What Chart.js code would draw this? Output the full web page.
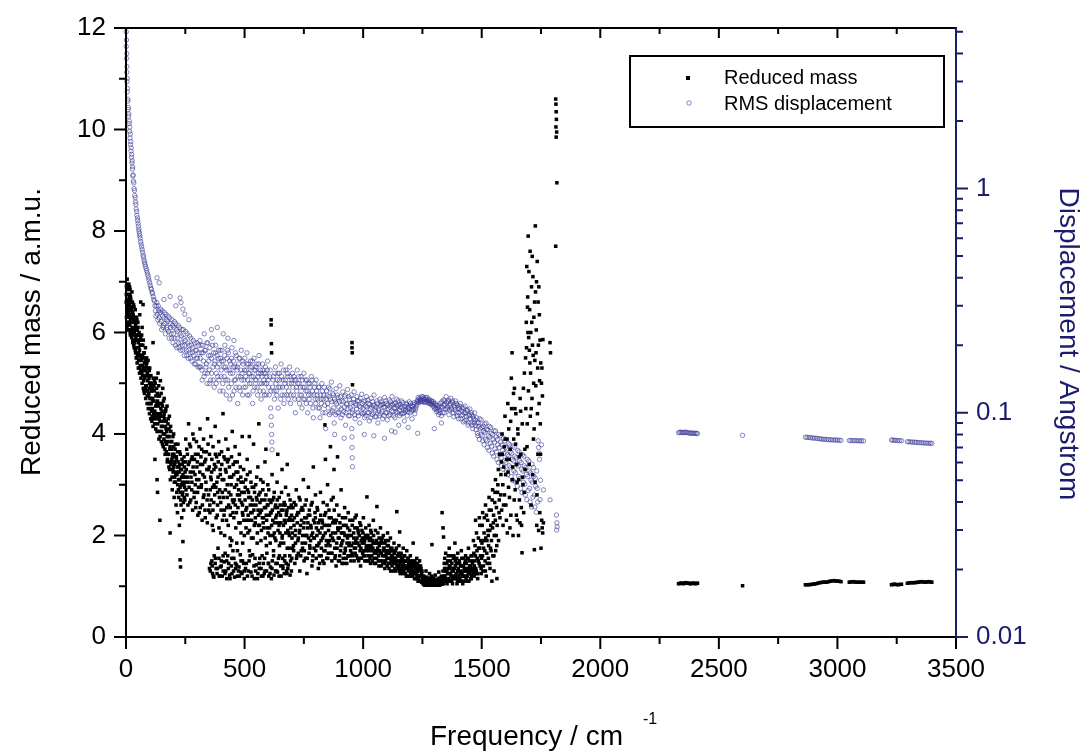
<!DOCTYPE html>
<html>
<head>
<meta charset="utf-8">
<script src="https://cdn.jsdelivr.net/npm/chart.js@4.4.1/dist/chart.umd.min.js"></script>
<style>
html,body{margin:0;padding:0;background:#fff;}
#wrap{width:1089px;height:752px;position:relative;}
</style>
</head>
<body>
<div id="wrap"><canvas id="c"></canvas></div>
<script>
// ---------- tick labels ----------
const xTicks = [0, 500, 1000, 1500, 2000, 2500, 3000, 3500];
const xMinor = [250, 750, 1250, 1750, 2250, 2750, 3250];
const yTicks = [0, 2, 4, 6, 8, 10, 12];
const yMinor = [1, 3, 5, 7, 9, 11];
const logTicks = [0.01, 0.1, 1];
const logMinor = [0.02,0.03,0.04,0.05,0.06,0.07,0.08,0.09,0.2,0.3,0.4,0.5,0.6,0.7,0.8,0.9,2,3,4,5];

// ---------- Reduced mass (a.m.u.) : [frequency, mass] ----------
const massLow = [
[2,6.9],[3,6.6],[4,6.35],[5,7.05],[6,6.75],[7,6.5],[8,6.2],[9,6.85],[10,6.6],[11,6.4],[12,6.95],[13,6.3],[14,6.7],[15,6.55],[16,6.15],[17,6.85],[18,6.45],[19,6.25],[20,6.65],[21,6.05],[23,6.5],[24,6.3],[25,6.8],[26,6.1],[28,6.4],[29,6.2],[30,5.95],[32,6.55],[33,6.3],[35,6.0],[36,6.2],[38,5.85],[39,6.45],[40,6.1],
[42,5.9],[44,6.3],[45,5.7],[47,6.05],[48,5.55],[50,6.2],[52,5.8],[53,5.45],[55,6.0],[57,5.65],[58,6.35],[60,5.35],[62,5.9],[63,5.5],[65,5.75],[67,5.2],[68,6.1],[70,5.55],[72,5.3],[73,5.85],[75,5.05],[77,5.6],[78,5.4],[80,5.15],[82,5.7],[83,4.95],[85,5.35],[87,5.5],[88,4.85],[90,5.2],[92,5.05],[93,5.45],[95,4.75],[97,5.1],[98,4.9],[100,5.3],[102,4.6],[104,4.95],[105,5.15],[107,4.7],[108,4.45],[110,5.0],[62,6.6],[72,6.55],[114,5.8],
[112,4.7],[115,5.1],[117,4.4],[119,4.85],[121,4.2],[123,5.0],[125,4.55],[127,4.3],[129,4.9],[131,4.05],[133,4.65],[135,5.2],[137,4.4],[139,3.9],[141,4.75],[143,4.25],[145,5.05],[147,4.5],[149,3.85],[151,4.6],[153,4.15],[155,4.9],[157,3.75],[159,4.35],[161,4.7],[163,4.0],[165,3.6],[167,4.45],[169,4.1],[171,3.8],[173,4.55],[175,3.5],[177,4.2],[179,3.95],[181,3.35],[183,4.35],[185,3.7],[187,3.1],[189,4.05],[191,3.45],[193,3.85],[195,2.9],[197,3.6],[199,3.25],[201,4.0],[203,2.75],[205,3.4],[207,3.7],[209,3.05],[211,2.6],[213,3.5],[215,3.2],[217,2.45],[219,3.8],[221,2.9],[223,3.35],[225,2.2],[227,3.1],[229,3.6],[231,2.7],[233,3.0],[235,2.35],[237,3.4],[239,2.85],[241,3.15],[243,2.5],[245,3.55],[247,2.95],[249,3.25],
[122,3.5],[131,3.1],[133,2.85],[143,2.3],[186,2.05],[228,1.52],[230,1.38],[240,1.88],[114,4.15]
];
const massLow2 = [
[1,6.6],[2,6.3],[3,6.95],[4,6.1],[5,6.5],[6,6.3],[7,6.85],[8,6.6],[9,6.4],[10,6.15],[11,6.9],[12,6.55],[13,6.05],[14,6.45],[15,6.9],[16,6.35],[17,6.6],[18,6.0],[19,6.7],[20,6.3],[22,6.45],[24,5.9],[25,6.25],[27,6.6],[29,5.85],[30,6.35],[31,6.05],[33,5.75],[34,6.5],[36,5.8],[37,6.25],[39,5.65],[41,6.15],[43,5.5],[44,5.95],[46,6.25],[47,5.4],[49,5.85],[51,6.1],[52,5.3],[54,5.7],[56,5.95],[57,5.2],[59,5.55],[61,5.85],[63,5.1],[64,5.45],[66,5.95],[68,5.0],[69,5.35],[71,5.75],[73,4.9],[74,5.25],[76,5.6],[78,4.8],[79,5.1],[81,5.45],[83,4.7],[84,5.25],[86,4.95],[88,5.4],[89,4.6],[91,4.85],[93,5.15],[94,4.5],[96,4.8],[98,5.25],[99,4.4],[101,4.7],[103,5.0],[104,4.3],[106,4.6],[108,4.85],[109,4.25],[111,4.5],[113,4.9],[116,4.3],[118,4.65],[120,5.05],[124,4.35],[126,4.75],[128,5.1],[130,4.4],[132,4.8],[134,4.2],[136,4.55],[138,4.95],[140,4.3],[142,4.6],[144,3.95],[146,4.35],[148,4.8],[150,4.05],[152,4.45],[154,3.8],[156,4.25],[158,4.65],[160,3.9],[162,4.3],[164,3.7],[166,4.15],[168,4.5],[170,3.65],[172,4.05],[174,3.45],[176,3.85],[178,4.3],[180,3.6],[182,3.95],[184,3.3],[186,3.75],[188,4.15],[190,3.4],[192,3.7],[194,3.15],[196,3.55],[198,3.95],[200,3.35],[202,3.6],[204,3.05],[206,3.45],[208,3.8],[210,3.2],[212,3.55],[214,2.85],[216,3.35],[218,3.0],[220,3.45],[222,2.75],[224,3.25],[226,3.65],[228,2.95],[230,3.3],[232,2.6],[234,3.15],[236,3.5],[238,2.8],[240,3.2],[242,2.65],[244,3.0],[246,3.35],[248,2.7],[250,3.05]
];
const massLow3 = [
[1.5,6.75],[3.5,6.45],[5.5,6.2],[7.5,6.95],[9.5,6.05],[11.5,6.65],[14.5,6.2],[16.5,6.75],[18.5,5.95],[21.5,6.5],[23.5,6.0],[26.5,6.4],[28.5,5.8],[31.5,6.25],[34.5,5.7],[37.5,6.05],[40.5,5.6],[43.5,6.05],[46.5,5.5],[49.5,5.95],[53.5,5.6],[56.5,5.3],[59.5,5.75],[62.5,5.25],[65.5,5.55],[69.5,5.15],[72.5,5.5],[75.5,4.85],[79.5,5.3],[82.5,4.9],[86.5,5.15],[89.5,4.75],[92.5,5.3],[96.5,4.6],[99.5,5.0],[103.5,4.5],[106.5,4.85],[110.5,4.35],[113.5,4.65],[117.5,4.95],[121.5,4.45],[125.5,4.1],[129.5,4.6],[133.5,4.35],[137.5,4.75],[141.5,4.05],[145.5,4.4],[149.5,4.15],[153.5,4.55],[157.5,4.0],[161.5,4.4],[165.5,3.85],[169.5,4.25],[173.5,3.95],[177.5,3.6],[181.5,4.1],[185.5,3.45],[189.5,3.85],[193.5,3.5],[197.5,3.3],[201.5,3.75],[205.5,3.15],[209.5,3.55],[213.5,3.25],[217.5,3.65],[221.5,3.1],[225.5,3.4],[229.5,2.85],[233.5,3.3],[237.5,3.05],[241.5,3.45],[245.5,2.75],[249.5,3.15]
];
const massMid = [
[252,3.9],[254,3.3],[257,2.8],[259,3.6],[262,3.05],[264,4.2],[267,3.45],[269,2.65],[272,3.75],[274,3.15],[277,2.9],[279,3.55],[282,4.0],[284,3.25],[287,2.75],[289,3.5],[292,3.0],[294,2.55],[297,3.85],[299,3.35],[302,2.85],[304,3.6],[307,3.1],[309,2.45],[312,4.1],[314,3.4],[317,2.95],[319,3.7],[322,2.6],[324,3.2],[327,3.9],[329,2.8],[332,3.45],[334,2.35],[337,3.05],[339,3.65],[342,2.7],[344,4.3],[347,3.3],[349,2.5],
[352,3.6],[355,2.9],[358,3.95],[361,3.25],[364,2.2],[367,3.75],[370,2.65],[373,3.4],[376,4.15],[379,2.95],[382,3.55],[385,2.4],[388,3.15],[391,3.85],[394,2.75],[397,3.3],[400,2.05],[403,3.65],[406,2.85],[409,4.4],[412,3.1],[415,2.5],[418,3.5],[421,3.9],[424,2.3],[427,3.0],[430,3.7],[433,2.6],[436,3.35],[439,1.95],[442,2.8],[445,3.55],[448,4.05],[451,2.45],[454,3.2],[457,2.7],[460,3.75],[463,2.15],[466,3.0],[469,3.45],[472,2.55],[475,2.9],[478,3.6],[481,2.25],[484,3.15],[487,2.65],[490,3.95],[493,2.4],[496,3.3],[499,2.0],
[358,1.45],[365,1.25],[372,1.6],[380,1.35],[388,1.75],[395,1.2],[402,1.5],[410,1.3],[418,1.65],[425,1.15],[433,1.45],[440,1.8],[447,1.25],[455,1.55],[462,1.35],[470,1.7],[478,1.2],[485,1.5],[492,1.85],[499,1.3],
[502,2.7],[505,3.1],[508,2.3],[511,3.5],[514,2.05],[517,2.85],[520,1.7],[523,3.25],[526,2.45],[529,1.95],[532,2.95],[535,2.6],[538,3.8],[541,2.2],[544,1.55],[547,3.0],[550,2.75],[553,1.85],[556,3.35],[559,2.4],[562,1.35],[565,2.65],[568,3.1],[571,2.1],[574,1.6],[577,2.9],[580,2.35],[583,1.25],[586,3.45],[589,2.55],[592,1.8],[595,2.15],[598,3.0],[601,1.45],[604,2.7],[607,2.0],[610,2.45],[613,1.15],[616,3.2],[619,2.3],[622,1.7],[625,2.85],[628,1.95],[631,2.6],[634,1.3],[637,3.05],[640,2.25],[643,1.55],[646,2.75],[649,2.05],[652,1.85],[655,2.5],[658,3.3],[661,1.4],[664,2.2],[667,2.65],[670,1.6],[673,2.95],[676,2.4],[679,1.25],[682,2.1],[685,2.8],[688,1.75],[691,2.35],[694,1.5],[697,2.6],[700,1.95],
[520,3.95],[560,4.2],[590,3.7],[640,3.6],[680,3.4],[612,6.25],[612,6.15],[613,5.78],[614,5.6]
];
const massMid2 = [
[251,3.45],[253,2.9],[256,3.7],[258,3.15],[261,2.6],[263,3.4],[266,2.95],[268,3.8],[271,3.25],[273,2.7],[276,3.5],[278,3.05],[281,2.5],[283,3.35],[286,3.9],[288,2.85],[291,3.2],[293,3.6],[296,2.65],[298,3.1],[301,3.45],[303,2.4],[306,2.95],[308,3.75],[311,3.25],[313,2.55],[316,3.55],[318,3.0],[321,2.3],[323,3.4],[326,2.75],[328,3.65],[331,3.15],[333,2.5],[336,3.5],[338,2.9],[341,3.3],[343,2.25],[346,3.8],[348,2.8],
[351,3.35],[354,2.45],[357,3.15],[359,2.7],[362,3.5],[365,2.95],[368,2.1],[371,3.3],[374,2.8],[377,3.6],[380,2.35],[383,3.05],[386,2.6],[389,3.45],[392,2.15],[395,2.9],[398,3.2],[401,2.5],[404,3.4],[407,2.3],[410,2.75],[413,3.55],[416,2.0],[419,2.9],[422,3.25],[425,2.55],[428,3.45],[431,2.2],[434,2.85],[437,3.15],[440,2.4],[443,3.0],[446,1.9],[449,2.7],[452,3.4],[455,2.35],[458,2.95],[461,2.6],[464,3.25],[467,1.85],[470,2.8],[473,3.1],[476,2.25],[479,2.7],[482,3.35],[485,2.05],[488,2.85],[491,2.45],[494,3.05],[497,2.3],
[352,1.35],[362,1.5],[368,1.2],[376,1.45],[384,1.25],[392,1.55],[398,1.38],[406,1.2],[414,1.48],[421,1.3],[429,1.6],[437,1.22],[444,1.4],[451,1.7],[458,1.18],[466,1.42],[474,1.3],[482,1.62],[489,1.25],[496,1.45],[504,1.35],[512,1.2],[519,1.5],[527,1.28],[534,1.62],[541,1.15],[549,1.42],[556,1.25],[564,1.55],[571,1.2],[579,1.45],[586,1.3],[594,1.65],[602,1.2],[609,1.38],[617,1.5],[624,1.22],[632,1.45],[639,1.28],[647,1.6],[654,1.2],[662,1.35],[669,1.5],[677,1.3],[684,1.42],[692,1.22],[699,1.55],
[503,2.95],[506,2.15],[509,2.55],[512,3.2],[515,2.4],[518,2.75],[521,2.1],[524,2.6],[527,3.05],[530,2.3],[533,2.7],[536,1.95],[539,2.5],[542,2.85],[545,2.25],[548,2.6],[551,3.15],[554,2.05],[557,2.5],[560,2.8],[563,2.2],[566,2.45],[569,1.9],[572,2.7],[575,2.35],[578,3.05],[581,2.15],[584,2.55],[587,1.95],[590,2.8],[593,2.3],[596,2.6],[599,2.05],[602,2.9],[605,2.4],[608,1.85],[611,2.65],[614,2.2],[617,2.5],[620,2.0],[623,2.75],[626,2.25],[629,2.55],[632,1.9],[635,2.4],[638,2.7],[641,2.1],[644,2.45],[647,1.8],[650,2.6],[653,2.25],[656,2.85],[659,2.0],[662,2.5],[665,1.85],[668,2.3],[671,2.6],[674,2.05],[677,2.45],[680,1.75],[683,2.3],[686,2.55],[689,2.0],[692,2.7],[695,2.15],[698,2.4]
];
const massMid3 = [
[353.5,2.6],[359.5,3.1],[366.5,2.5],[371.5,3.0],[378.5,3.35],[386.5,2.85],[393.5,3.6],[399.5,2.65],[405.5,3.1],[413.5,2.4],[419.5,3.3],[426.5,2.75],[432.5,3.5],[439.5,2.55],[445.5,3.15],[452.5,2.65],[459.5,3.45],[465.5,2.45],[471.5,3.25],[478.5,2.8],[485.5,3.05],[491.5,2.6],[498.5,2.85],[505.5,2.5],[512.5,2.9],[518.5,2.3],[525.5,2.75],[531.5,2.45],[538.5,2.95],[545.5,2.35],[552.5,2.7],[558.5,2.2],[565.5,2.85],[571.5,2.5],[578.5,2.25],[585.5,2.7],[591.5,2.4],[598.5,2.6],[605.5,2.15],[611.5,2.45],[618.5,2.7],[625.5,2.05],[631.5,2.35],[638.5,2.55],[645.5,2.2],[651.5,2.4],[658.5,1.95],[665.5,2.6],[671.5,2.25],[678.5,2.5],[685.5,2.05],[691.5,2.3],[698.5,2.55],
[355.5,1.3],[363.5,1.4],[370.5,1.18],[377.5,1.55],[385.5,1.35],[393.5,1.2],[401.5,1.4],[409.5,1.6],[417.5,1.25],[424.5,1.5],[431.5,1.35],[438.5,1.15],[446.5,1.55],[453.5,1.3],[461.5,1.45],[469.5,1.2],[476.5,1.38],[484.5,1.28],[491.5,1.5],[498.5,1.15],[507.5,1.45],[515.5,1.3],[523.5,1.6],[531.5,1.2],[539.5,1.4],[546.5,1.3],[554.5,1.15],[561.5,1.45],[569.5,1.35],[577.5,1.2],[584.5,1.55],[592.5,1.3],[600.5,1.45],[607.5,1.25],[615.5,1.35],[622.5,1.6],[630.5,1.3],[637.5,1.45],[645.5,1.2],[652.5,1.4],[660.5,1.55],[667.5,1.25],[675.5,1.45],[682.5,1.35],[690.5,1.6],[697.5,1.3]
];
const massHigh = [
[703,2.3],[706,1.8],[709,2.65],[712,1.45],[715,2.1],[718,2.9],[721,1.6],[724,2.45],[727,1.95],[730,2.75],[733,1.3],[736,2.2],[739,1.7],[742,2.55],[745,2.0],[748,3.1],[751,1.5],[754,2.35],[757,1.85],[760,2.7],[763,1.25],[766,2.15],[769,2.95],[772,1.65],[775,2.4],[778,1.9],[781,2.6],[784,1.4],[787,2.05],[790,3.35],[793,1.75],[796,2.25],[799,2.8],[802,1.55],[805,2.0],[808,2.5],[811,1.35],[814,1.85],[817,2.3],[820,2.85],[823,1.6],[826,2.15],[829,1.95],[832,2.65],[835,1.45],[838,2.4],[841,3.5],[844,1.8],[847,2.2],[850,3.0],[853,1.65],[856,2.5],[859,1.9],[862,3.75],[865,2.35],[868,1.5],[871,2.05],[874,2.75],[877,3.3],[880,1.75],[883,2.25],[886,1.4],[889,2.6],[892,3.55],[895,1.95],[898,2.4],[901,1.6],[904,2.15],[907,2.9],[910,1.85],[913,2.35],[916,1.55],[919,2.05],[922,2.55],[925,1.7],[928,2.2],[931,1.45],[934,1.95],[937,2.45],[940,1.8],[943,2.1],[946,1.6],
[839,4.18],[953,5.8],[953,5.7],[954,5.6],[955,4.97],
[950,2.0],[953,1.65],[956,2.3],[959,1.85],[962,1.5],[965,2.15],[968,1.75],[971,2.4],[974,1.95],[977,1.55],[980,2.05],[983,1.8],[986,2.25],[989,1.4],[992,1.9],[995,2.1],[998,1.65],[1001,2.35],[1004,1.85],[1007,1.5],[1010,2.0],[1013,1.75],[1016,2.76],[1019,1.95],[1022,1.6],[1025,2.2],[1028,1.8],[1031,1.45],[1034,2.05],[1037,1.7],[1040,1.9],[1043,2.3],[1046,1.55],[1049,1.85],[1052,2.1],[1055,1.65],[1058,2.57],[1061,1.75],[1064,1.5],[1067,1.95],[1070,1.7],[1073,2.15],[1076,1.4],[1079,1.85],[1082,1.6],[1085,2.0],[1088,1.75],[1091,1.45],[1094,1.9],[1097,1.65],[1100,1.55],[1103,2.05],[1106,1.8],[1109,1.35],[1112,1.7],[1115,1.95],[1118,1.5],[1121,1.75],[1124,1.6],[1127,1.3],[1130,1.85],[1133,1.55],[1136,1.7],[1139,1.45],[1142,2.47],[1145,1.6],[1148,1.35],[1151,1.8],[1154,2.07],[1157,1.5],[1160,1.65],[1163,1.3],[1166,1.55],[1169,1.75],[1172,1.4],[1175,1.6],[1178,1.25],[1181,1.5],[1184,1.7],[1187,1.35],[1190,1.55],[1193,1.45],[1196,1.2],[1199,1.6],[1202,1.4],[1205,1.3],[1208,1.5],[1211,1.85],[1214,1.25],[1217,1.45],[1220,1.35],[1223,1.15],[1226,1.55],[1229,1.3],[1232,1.4],[1235,1.2],[1238,1.5],[1241,1.1],[1244,1.35],[1247,1.25],[1250,1.15],
[1253,1.05],[1256,1.2],[1259,1.02],[1262,1.1],[1265,1.3],[1268,1.04],[1271,1.15],[1274,1.02],[1277,1.08],[1280,1.25],[1283,1.03],[1286,1.12],[1289,1.05],[1292,1.18],[1295,1.02],[1298,1.1],[1301,1.04],[1304,1.22],[1307,1.06],[1310,1.02],[1313,1.14],[1316,1.05],[1319,1.28],[1322,1.08],[1325,1.03],[1328,1.16],[1331,1.06],[1334,1.1],[1337,1.3],
[1333,2.45],[1337,2.15],[1339,1.97],[1290,1.82],
[1342,1.45],[1345,1.2],[1348,1.65],[1351,1.35],[1354,1.05],[1357,1.5],[1360,1.25],[1363,1.75],[1366,1.4],[1369,1.1],[1372,1.6],[1375,1.3],[1378,1.15],[1381,1.55],[1384,1.35],[1387,1.85],[1390,1.2],[1393,1.45],[1396,1.05],[1399,1.65],[1402,1.3],[1405,1.5],[1408,1.15],[1411,1.4],[1414,1.7],[1417,1.25],[1420,1.05],[1423,1.55],[1426,1.35],[1429,1.2],[1432,1.6],[1435,1.45],[1438,1.1],[1441,1.3],[1444,1.75],[1447,1.5],[1450,1.25],[1453,1.4],[1456,1.15],[1459,1.6],[1462,1.35],[1465,1.9],[1468,1.2]
];
const massHigh2 = [
[701,2.05],[704,2.55],[707,1.7],[710,2.35],[713,2.0],[716,2.6],[719,1.55],[722,2.25],[725,1.9],[728,2.45],[731,2.05],[734,2.7],[737,1.6],[740,2.3],[743,1.85],[746,2.5],[749,2.15],[752,1.7],[755,2.6],[758,2.0],[761,2.35],[764,1.55],[767,2.25],[770,1.95],[773,2.5],[776,1.75],[779,2.2],[782,2.0],[785,2.65],[788,1.6],[791,2.3],[794,1.95],[797,2.45],[800,1.7],[803,2.15],[806,2.55],[809,1.8],[812,2.25],[815,1.6],[818,2.05],[821,2.4],[824,1.75],[827,2.3],[830,1.5],[833,2.0],[836,2.2],[839,1.7],[842,2.45],[845,1.9],[848,2.6],[851,1.55],[854,2.1],[857,2.35],[860,1.8],[863,2.0],[866,2.7],[869,1.65],[872,2.25],[875,1.9],[878,2.5],[881,1.55],[884,2.05],[887,2.3],[890,1.75],[893,2.15],[896,1.5],[899,1.95],[902,2.25],[905,1.7],[908,2.05],[911,1.45],[914,1.9],[917,2.2],[920,1.65],[923,2.0],[926,2.35],[929,1.55],[932,1.85],[935,2.15],[938,1.6],[941,2.0],[944,2.3],[947,1.7],
[951,1.8],[954,2.2],[957,1.6],[960,2.05],[963,1.75],[966,2.35],[969,1.9],[972,1.6],[975,2.15],[978,1.85],[981,1.5],[984,2.0],[987,1.7],[990,2.2],[993,1.55],[996,1.85],[999,2.05],[1002,1.7],[1005,1.95],[1008,1.6],[1011,2.15],[1014,1.8],[1017,1.5],[1020,2.0],[1023,1.7],[1026,1.9],[1029,1.55],[1032,2.1],[1035,1.8],[1038,1.5],[1041,1.75],[1044,2.0],[1047,1.65],[1050,1.85],[1053,1.45],[1056,1.9],[1059,1.7],[1062,2.05],[1065,1.6],[1068,1.8],[1071,1.5],[1074,1.85],[1077,1.65],[1080,1.95],[1083,1.45],[1086,1.75],[1089,1.6],[1092,1.85],[1095,1.5],[1098,1.7],[1101,1.4],[1104,1.65],[1107,1.9],[1110,1.55],[1113,1.45],[1116,1.75],[1119,1.6],[1122,1.4],[1125,1.7],[1128,1.5],[1131,1.65],[1134,1.35],[1137,1.55],[1140,1.75],[1143,1.4],[1146,1.5],[1149,1.65],[1152,1.3],[1155,1.45],[1158,1.6],[1161,1.35],[1164,1.5],[1167,1.25],[1170,1.45],[1173,1.6],[1176,1.35],[1179,1.5],[1182,1.2],[1185,1.4],[1188,1.55],[1191,1.3],[1194,1.4],[1197,1.5],[1200,1.25],[1203,1.45],[1206,1.35],[1209,1.2],[1212,1.4],[1215,1.3],[1218,1.5],[1221,1.25],[1224,1.35],[1227,1.2],[1230,1.45],[1233,1.15],[1236,1.3],[1239,1.2],[1242,1.4],[1245,1.1],[1248,1.3],
[1252,1.1],[1255,1.04],[1258,1.15],[1261,1.03],[1264,1.08],[1267,1.18],[1270,1.03],[1273,1.1],[1276,1.05],[1279,1.02],[1282,1.12],[1285,1.04],[1288,1.2],[1291,1.03],[1294,1.08],[1297,1.15],[1300,1.02],[1303,1.06],[1306,1.13],[1309,1.04],[1312,1.09],[1315,1.02],[1318,1.06],[1321,1.16],[1324,1.05],[1327,1.1],[1330,1.2],[1333,1.08],[1336,1.15],[1339,1.05],
[1341,1.2],[1344,1.55],[1347,1.3],[1350,1.1],[1353,1.45],[1356,1.25],[1359,1.6],[1362,1.15],[1365,1.35],[1368,1.5],[1371,1.2],[1374,1.45],[1377,1.05],[1380,1.3],[1383,1.6],[1386,1.15],[1389,1.4],[1392,1.25],[1395,1.55],[1398,1.1],[1401,1.35],[1404,1.2],[1407,1.45],[1410,1.1],[1413,1.3],[1416,1.55],[1419,1.2],[1422,1.4],[1425,1.1],[1428,1.3],[1431,1.5],[1434,1.15],[1437,1.35],[1440,1.2],[1443,1.55],[1446,1.1],[1449,1.4],[1452,1.3],[1455,1.6],[1458,1.2],[1461,1.45],[1464,1.3],[1467,1.65],[1470,1.25]
];
const massHigh3 = [
[702.5,1.75],[708.5,2.2],[714.5,1.85],[720.5,2.4],[726.5,1.65],[732.5,2.1],[738.5,2.5],[744.5,1.75],[750.5,2.25],[756.5,1.55],[762.5,2.0],[768.5,2.4],[774.5,1.8],[780.5,2.15],[786.5,1.5],[792.5,1.95],[798.5,2.35],[804.5,1.8],[810.5,2.1],[816.5,1.45],[822.5,1.9],[828.5,2.25],[834.5,1.7],[840.5,2.05],[846.5,1.55],[852.5,1.85],[858.5,2.2],[864.5,1.65],[870.5,1.95],[876.5,2.3],[882.5,1.6],[888.5,1.85],[894.5,2.1],[900.5,1.5],[906.5,1.8],[912.5,2.05],[918.5,1.45],[924.5,1.75],[930.5,2.0],[936.5,1.6],[942.5,1.85],[948.5,1.5],[960.5,1.95],[966.5,1.65],[972.5,1.85],[978.5,2.1],[984.5,1.55],[990.5,1.75],[996.5,1.95],
[1001.5,1.6],[1006.5,1.9],[1011.5,1.7],[1016.5,2.0],[1021.5,1.5],[1026.5,1.75],[1031.5,1.95],[1036.5,1.6],[1041.5,1.85],[1046.5,1.45],[1051.5,1.7],[1056.5,1.55],[1061.5,1.85],[1066.5,1.4],[1071.5,1.65],[1076.5,1.9],[1081.5,1.5],[1086.5,1.7],[1091.5,1.35],[1096.5,1.6],[1101.5,1.8],[1106.5,1.45],[1111.5,1.65],[1116.5,1.3],[1121.5,1.55],[1126.5,1.45],[1131.5,1.65],[1136.5,1.3],[1141.5,1.5],[1146.5,1.6],[1151.5,1.4],[1156.5,1.25],[1161.5,1.55],[1166.5,1.4],[1171.5,1.3],[1176.5,1.5],[1181.5,1.35],[1186.5,1.2],[1191.5,1.45],[1196.5,1.35],[1201.5,1.2],[1206.5,1.42],[1211.5,1.3],[1216.5,1.15],[1221.5,1.4],[1226.5,1.25],[1231.5,1.1],[1236.5,1.35],[1241.5,1.2],[1246.5,1.08],
[1254.5,1.08],[1260.5,1.13],[1266.5,1.02],[1272.5,1.07],[1278.5,1.16],[1284.5,1.02],[1290.5,1.09],[1296.5,1.04],[1302.5,1.12],[1308.5,1.03],[1314.5,1.08],[1320.5,1.02],[1326.5,1.12],[1332.5,1.04],[1338.5,1.1],[1343.5,1.35],[1348.5,1.15],[1353.5,1.3],[1358.5,1.1],[1363.5,1.4],[1368.5,1.25],[1373.5,1.1],[1378.5,1.35],[1383.5,1.2],[1388.5,1.5],[1393.5,1.15],[1398.5,1.3],[1403.5,1.45],[1408.5,1.25],[1413.5,1.1],[1418.5,1.4],[1423.5,1.2],[1428.5,1.45],[1433.5,1.3],[1438.5,1.55],[1443.5,1.25],[1448.5,1.35],[1453.5,1.15],[1458.5,1.5],[1463.5,1.25],[1468.5,1.4],
[1473.5,1.6],[1479.5,1.25],[1485.5,1.5],[1491.5,1.75],[1497.5,1.35],[1503.5,1.6],[1509.5,1.9],[1515.5,1.3],[1521.5,1.65],[1527.5,2.0],[1533.5,1.45],[1539.5,1.7],[1545.5,2.15],[1551.5,1.6],[1557.5,2.3],[1563.5,1.8]
];
const massEdge = [
[1471,1.5],[1474,2.3],[1477,1.3],[1480,1.7],[1483,1.15],[1486,1.95],[1489,1.45],[1492,2.2],[1495,1.6],[1498,1.25],[1501,1.85],[1504,2.45],[1507,1.4],[1510,2.05],[1513,1.7],[1516,2.6],[1519,1.2],[1522,1.9],[1525,2.3],[1528,1.55],[1531,2.75],[1534,2.1],[1537,1.75],[1540,2.5],[1543,1.1],[1546,2.9],[1549,2.25],[1552,1.3],[1555,2.65],[1558,3.1],[1561,2.0],[1564,1.15],[1567,2.85],[1570,3.3],[1573,2.45],[1576,3.6],
[1580,2.8],[1583,3.45],[1586,4.0],[1589,3.0],[1592,2.6],[1595,3.75],[1598,4.35],[1601,3.2],[1604,2.3],[1607,3.9],[1610,4.6],[1613,2.95],[1616,3.5],[1619,2.15],[1622,4.25],[1625,5.1],[1628,5.6],[1631,3.35],[1634,4.8],[1637,2.7],[1640,4.5],[1643,3.8],[1646,2.4],[1649,3.05],[1652,4.1],[1655,2.0],[1658,3.55],[1661,2.25],[1664,4.45],[1667,2.55],[1670,1.66],[1673,3.15],[1676,4.9],[1679,2.85],[1682,3.7],[1685,5.5],[1688,6.2],[1690,7.3],[1692,4.2],[1694,6.7],[1696,7.9],[1698,5.9],[1700,3.4],[1702,6.45],[1704,7.6],[1706,5.2],[1708,2.6],[1710,6.9],[1712,4.7],[1714,5.75],[1716,7.1],[1718,3.9],[1720,6.3],[1722,1.72],[1724,5.45],[1726,8.1],[1728,4.95],[1730,6.05],[1732,2.2],[1734,7.4],[1736,5.3],[1738,6.6],[1740,2.1],[1742,4.6],[1744,5.05],[1746,5.85],[1748,3.6],[1752,5.0],[1756,4.75],[1758,5.86],[1760,2.25],[1788,5.8],[1790,5.6],
[1695,6.0],[1703,5.4],[1711,6.2],[1719,5.0],[1727,6.8],[1735,4.4],[1743,6.35],[1705,4.35],[1715,3.2],[1725,3.05],[1733,2.8],[1745,2.45],[1750,1.75],[1755,2.15],[1757,2.05],
[1812,10.6],[1813,10.5],[1814,10.35],[1815,10.2],[1813,10.05],[1816,9.95],[1814,9.85],[1817,8.95],[1812,7.7]
];
const massEdge2 = [
[1472,1.8],[1475,1.35],[1478,2.05],[1481,1.55],[1484,1.25],[1487,1.75],[1490,2.35],[1493,1.4],[1496,1.9],[1499,1.55],[1502,2.2],[1505,1.3],[1508,1.75],[1511,2.35],[1514,1.5],[1517,1.95],[1520,2.4],[1523,1.45],[1526,2.1],[1529,1.8],[1532,2.5],[1535,1.35],[1538,2.2],[1541,1.9],[1544,2.7],[1547,1.6],[1550,2.4],[1553,2.0],[1556,2.85],[1559,1.7],[1562,2.55],[1565,2.2],[1568,3.0],[1571,1.9],[1574,2.7],[1577,2.35],[1581,3.2],[1584,2.5],[1587,3.6],[1590,2.2],[1593,3.35],[1596,2.8],[1599,3.9],[1602,2.6],[1605,3.5],[1608,2.05],[1611,3.25],[1614,4.1],[1617,2.75],[1620,3.7],[1623,2.4],[1626,4.5],[1629,3.1],[1632,2.0],[1635,3.9],[1638,4.9],[1641,2.9],[1644,4.4],[1647,3.4],[1650,2.3],[1653,4.0],[1656,3.1],[1659,2.7],[1662,4.7],[1665,3.6],[1668,2.2],[1671,4.2],[1674,3.0],[1677,2.45],[1680,5.2],[1683,3.3],[1686,4.5],[1689,5.7],[1691,3.75],[1693,6.5],[1697,4.85],[1699,7.2],[1701,5.65],[1707,6.0],[1709,4.5],[1713,7.5],[1717,5.55],[1721,4.1],[1723,6.6],[1729,5.6],[1731,7.0],[1737,3.6],[1739,5.75],[1741,6.9],[1747,4.2],[1749,5.4],[1753,2.3],[1754,5.3]
];
const massTail = [
[2330,1.05],[2335,1.055],[2340,1.06],[2345,1.06],[2350,1.05],[2355,1.06],[2360,1.07],[2365,1.065],[2370,1.06],[2375,1.055],[2380,1.05],[2385,1.055],[2390,1.06],[2395,1.06],[2400,1.05],[2405,1.055],[2410,1.06],[2600,1.01],
[2865,1.03],[2872,1.03],[2880,1.03],[2887,1.035],[2895,1.04],[2902,1.045],[2910,1.05],[2917,1.06],[2925,1.07],[2932,1.075],[2940,1.08],[2947,1.08],[2955,1.08],[2962,1.09],[2970,1.1],[2977,1.105],[2985,1.11],[2992,1.105],[3000,1.1],[3007,1.1],[3015,1.09],
[3050,1.08],[3057,1.085],[3065,1.09],[3072,1.085],[3080,1.08],[3087,1.08],[3095,1.08],[3102,1.08],[3110,1.08],
[3228,1.03],[3234,1.035],[3240,1.04],[3247,1.035],[3255,1.03],[3262,1.035],[3270,1.04],[3295,1.06],[3302,1.065],[3310,1.07],[3317,1.07],[3325,1.07],[3332,1.075],[3340,1.08],[3347,1.085],[3355,1.09],[3362,1.085],[3370,1.08],[3377,1.085],[3385,1.09],[3392,1.085],[3398,1.08],[3618,1.05]
];

// ---------- RMS displacement (Angstrom, log axis) : [frequency, displacement] ----------
const dispLow = [
[1,5.0],[2,4.6],[3,4.0],[4,3.5],[5,3.1],[6,2.8],[8,2.5],[10,2.3],[12,2.15],[14,2.0],[16,1.88],[18,1.75],[20,1.62],[22,1.52],[24,1.42],[26,1.33],[28,1.25],[30,1.15],[33,1.06],[36,0.98],[39,0.91],[42,0.85],[45,0.79],[48,0.74],[51,0.70],[54,0.66],[57,0.63],[60,0.60],[64,0.565],[68,0.535],[72,0.505],[76,0.48],[80,0.46],[85,0.44],[90,0.42],[95,0.40],[100,0.38],[105,0.36],[110,0.345],[115,0.33],[120,0.315],
[1,4.3],[2,3.8],[3,3.3],[4,3.0],[5,2.7],[7,2.45],[9,2.25],[11,2.1],[13,1.95],[15,1.8],[17,1.68],[19,1.57],[21,1.47],[23,1.38],[25,1.3],[27,1.22],[29,1.14],[31,1.08],[34,1.0],[37,0.93],[40,0.87],[43,0.81],[46,0.76],[49,0.72],[52,0.68],[55,0.645],[58,0.615],[62,0.58],[66,0.55],[70,0.52],[74,0.495],[78,0.47],[82,0.45],[87,0.43],[92,0.41],[97,0.39],[102,0.37],[107,0.355],[112,0.34],[117,0.32],
[122,0.30],[126,0.27],[130,0.31],[134,0.26],[138,0.285],[142,0.25],[146,0.29],[150,0.235],[154,0.27],[158,0.245],[162,0.28],[166,0.225],[170,0.26],[174,0.235],[178,0.27],[182,0.215],[186,0.25],[190,0.225],[194,0.26],[198,0.205],[202,0.24],[206,0.215],[210,0.25],[214,0.195],[218,0.23],[222,0.205],[226,0.24],[230,0.19],[234,0.22],[238,0.2],[242,0.235],[246,0.18],[250,0.21],[254,0.19],[258,0.225],[262,0.175],[266,0.2],[270,0.185],[274,0.215],[278,0.17],[282,0.195],[286,0.18],[290,0.205],[294,0.165],[298,0.19],[302,0.175],[306,0.2],[310,0.16],
[131,0.40],[140,0.38],[186,0.33],[228,0.325],[232,0.31],[240,0.29],[248,0.275],[160,0.32],[210,0.3],[265,0.26],[360,0.235],[385,0.24],[410,0.225],[430,0.215],[455,0.21]
];
const dispMid = [
[312,0.21],[315,0.16],[318,0.185],[321,0.14],[324,0.2],[327,0.17],[330,0.225],[333,0.15],[336,0.19],[339,0.165],[342,0.135],[345,0.205],[348,0.18],[351,0.155],[354,0.195],[357,0.14],[360,0.175],[363,0.215],[366,0.16],[369,0.185],[372,0.13],[375,0.17],[378,0.2],[381,0.15],[384,0.18],[387,0.145],[390,0.19],[393,0.165],[396,0.125],[399,0.175],
[402,0.155],[405,0.19],[408,0.135],[411,0.17],[414,0.145],[417,0.2],[420,0.16],[423,0.12],[426,0.175],[429,0.14],[432,0.185],[435,0.155],[438,0.115],[441,0.165],[444,0.135],[447,0.195],[450,0.15],[453,0.17],[456,0.125],[459,0.16],[462,0.14],[465,0.18],[468,0.155],[471,0.11],[474,0.165],[477,0.13],[480,0.175],[483,0.145],[486,0.19],[489,0.15],[492,0.12],[495,0.165],[498,0.14],[501,0.175],[504,0.13],[507,0.155],[510,0.185],[513,0.14],[516,0.165],[519,0.12],[522,0.15],[525,0.17],[528,0.135],[531,0.16],[534,0.11],[537,0.145],[540,0.175],[543,0.13],[546,0.155],[549,0.14],[552,0.165],[555,0.12],[558,0.15],[561,0.18],[564,0.135],[567,0.155],[570,0.115],[573,0.145],[576,0.165],[579,0.125],[582,0.15],[585,0.135],[588,0.16],[591,0.12],[594,0.145],[597,0.17],
[610,0.105],[612,0.096],[613,0.088],[614,0.08],[615,0.074],[616,0.0684],
[600,0.14],[604,0.12],[608,0.155],[618,0.13],[622,0.145],[626,0.115],[630,0.16],[634,0.125],[638,0.14],[642,0.105],[646,0.15],[650,0.13],[654,0.165],[658,0.12],[662,0.14],[666,0.11],[670,0.135],[674,0.155],[678,0.12],[682,0.145],[686,0.125],[690,0.16],[694,0.11],[698,0.135],[702,0.15],[706,0.12],[710,0.14],[714,0.1],[718,0.13],[722,0.155],[726,0.115],[730,0.135],[734,0.12],[738,0.145],[742,0.105],[746,0.13],[750,0.15],[754,0.115],[758,0.125],[762,0.14],[766,0.1],[770,0.12],[774,0.135],[778,0.11],[782,0.145],[786,0.125],[790,0.095],[794,0.13],[798,0.115]
];
const dispMid2 = [
[124,0.285],[128,0.3],[132,0.275],[136,0.3],[140,0.265],[144,0.28],[148,0.255],[152,0.285],[156,0.24],[160,0.265],[164,0.25],[168,0.275],[172,0.24],[176,0.255],[180,0.23],[184,0.265],[188,0.24],[192,0.215],[196,0.245],[200,0.225],[204,0.255],[208,0.2],[212,0.235],[216,0.215],[220,0.245],[224,0.195],[228,0.225],[232,0.205],[236,0.235],[240,0.19],[244,0.215],[248,0.2],[252,0.23],[256,0.18],[260,0.205],[264,0.19],[268,0.22],[272,0.175],[276,0.2],[280,0.185],[284,0.21],[288,0.165],[292,0.19],[296,0.175],[300,0.205],[304,0.16],[308,0.185],
[313,0.175],[317,0.2],[320,0.155],[325,0.185],[329,0.145],[332,0.19],[337,0.16],[341,0.205],[344,0.15],[349,0.17],[353,0.135],[356,0.18],[361,0.15],[365,0.2],[368,0.14],[373,0.165],[377,0.185],[380,0.135],[385,0.16],[389,0.175],[392,0.14],[397,0.19],[401,0.145],[404,0.17],[409,0.125],[413,0.16],[416,0.18],[421,0.14],[425,0.155],[428,0.19],[433,0.13],[437,0.17],[440,0.15],[445,0.175],[449,0.12],[452,0.16],[457,0.14],[461,0.185],[464,0.13],[469,0.16],[473,0.145],[476,0.175],[481,0.125],[485,0.155],[488,0.14],[493,0.17],[497,0.13],[500,0.155],[505,0.145],[509,0.165],[512,0.12],[517,0.15],[521,0.135],[524,0.16],[529,0.145],[533,0.17],[536,0.125],[541,0.155],[545,0.14],[548,0.16],[553,0.13],[557,0.145],[560,0.165],[565,0.125],[569,0.15],[572,0.135],[577,0.155],[581,0.14],[584,0.12],[589,0.15],[593,0.135],[596,0.155]
];
const dispHigh = [
[802,0.14],[806,0.12],[810,0.105],[814,0.13],[818,0.095],[822,0.115],[826,0.135],[830,0.1],[834,0.12],[838,0.108],[842,0.085],[846,0.125],[850,0.11],[854,0.13],[858,0.098],[862,0.115],[866,0.137],[870,0.102],[874,0.12],[878,0.09],[882,0.112],[886,0.128],[890,0.1],[894,0.117],[898,0.106],[902,0.132],[906,0.095],[910,0.113],[914,0.124],[918,0.101],[922,0.118],[926,0.088],[930,0.109],[934,0.127],[938,0.097],[942,0.115],[946,0.105],[950,0.12],[954,0.1],[958,0.111],[962,0.124],[966,0.094],[970,0.108],[974,0.118],[978,0.1],[982,0.113],[986,0.09],[990,0.106],[994,0.121],[998,0.099],
[952,0.085],[953,0.078],[953,0.07],[954,0.063],[955,0.0575],[880,0.08],[920,0.077],[1005,0.08],
[1002,0.112],[1006,0.095],[1010,0.107],[1014,0.118],[1018,0.1],[1022,0.11],[1026,0.092],[1030,0.104],[1034,0.116],[1038,0.098],[1042,0.108],[1046,0.12],[1050,0.096],[1054,0.106],[1058,0.113],[1062,0.09],[1066,0.102],[1070,0.115],[1074,0.099],[1078,0.109],[1082,0.094],[1086,0.106],[1090,0.117],[1094,0.1],[1098,0.11],[1102,0.093],[1106,0.104],[1110,0.114],[1114,0.098],[1118,0.108],[1122,0.118],[1126,0.101],[1130,0.11],[1134,0.095],[1138,0.105],[1142,0.115],[1146,0.1],[1150,0.108],[1154,0.097],[1158,0.106],[1162,0.113],[1166,0.099],[1170,0.104],[1174,0.092],[1178,0.102],[1182,0.11],[1186,0.097],[1190,0.105],[1194,0.112],[1198,0.1],[1202,0.107],[1206,0.094],[1210,0.103],[1214,0.109],[1218,0.099],[1222,0.105],
[1045,0.079],[1090,0.077],[1135,0.082],[1190,0.086],[1230,0.081],[1120,0.083],[1150,0.088],
[1226,0.108],[1230,0.114],[1234,0.111],[1238,0.116],[1242,0.112],[1246,0.118],[1250,0.113],[1254,0.116],[1258,0.111],[1262,0.115],[1266,0.112],[1270,0.117],[1274,0.113],[1278,0.11],[1282,0.114],[1286,0.109],[1290,0.112],[1294,0.107],[1298,0.11],[1302,0.104],[1306,0.108],[1310,0.101],[1314,0.105],[1318,0.098],[1300,0.085],[1330,0.09],
[1322,0.103],[1326,0.11],[1330,0.097],[1334,0.106],[1338,0.114],[1342,0.1],[1346,0.109],[1350,0.118],[1354,0.104],[1358,0.112],[1362,0.098],[1366,0.108],[1370,0.116],[1374,0.103],[1378,0.111],[1382,0.096],[1386,0.106],[1390,0.113],[1394,0.1],[1398,0.108],[1402,0.094],[1406,0.104],[1410,0.11],[1414,0.097],[1418,0.105],[1422,0.091],[1426,0.1],[1430,0.107],[1434,0.093],[1438,0.102],[1442,0.088],[1446,0.097],[1450,0.104],[1454,0.09],[1458,0.098],[1462,0.085],[1466,0.094],[1470,0.1]
];
const dispHigh2 = [
[602,0.13],[606,0.145],[611,0.125],[620,0.14],[624,0.125],[628,0.15],[632,0.135],[636,0.12],[640,0.15],[644,0.13],[648,0.14],[652,0.115],[656,0.145],[660,0.13],[664,0.155],[668,0.12],[672,0.14],[676,0.13],[680,0.15],[684,0.115],[688,0.135],[692,0.145],[696,0.12],[700,0.14],[704,0.13],[708,0.145],[712,0.115],[716,0.14],[720,0.125],[724,0.135],[728,0.145],[732,0.11],[736,0.13],[740,0.12],[744,0.14],[748,0.115],[752,0.13],[756,0.14],[760,0.11],[764,0.125],[768,0.135],[772,0.115],[776,0.13],[780,0.12],[784,0.14],[788,0.105],[792,0.12],[796,0.135],[800,0.11],
[804,0.125],[808,0.115],[812,0.13],[816,0.105],[820,0.12],[824,0.11],[828,0.125],[832,0.115],[836,0.13],[840,0.1],[844,0.115],[848,0.12],[852,0.105],[856,0.118],[860,0.128],[864,0.1],[868,0.112],[872,0.122],[876,0.105],[880,0.115],[884,0.098],[888,0.11],[892,0.12],[896,0.1],[900,0.112],[904,0.118],[908,0.104],[912,0.098],[916,0.112],[920,0.106],[924,0.12],[928,0.1],[932,0.11],[936,0.104],[940,0.118],[944,0.097],[948,0.11],[956,0.103],[960,0.115],[964,0.098],[968,0.11],[972,0.104],[976,0.113],[980,0.097],[984,0.107],[988,0.116],[992,0.1],[996,0.11],
[1000,0.105],[1004,0.1],[1008,0.113],[1012,0.097],[1016,0.106],[1020,0.114],[1024,0.1],[1028,0.109],[1032,0.095],[1036,0.106],[1040,0.112],[1044,0.1],[1048,0.108],[1052,0.102],[1056,0.096],[1060,0.11],[1064,0.104],[1068,0.097],[1072,0.108],[1076,0.112],[1080,0.101],[1084,0.109],[1088,0.097],[1092,0.106],[1096,0.113],[1100,0.1],[1104,0.108],[1108,0.097],[1112,0.106],[1116,0.112],[1120,0.102],[1124,0.109],[1128,0.097],[1132,0.105],[1136,0.111],[1140,0.101],[1144,0.107],[1148,0.113],[1152,0.102],[1156,0.109],[1160,0.099],[1164,0.106],[1168,0.111],[1172,0.1],[1176,0.107],[1180,0.103],[1184,0.109],[1188,0.101],[1192,0.107],[1196,0.104],[1200,0.11],[1204,0.102],[1208,0.107],[1212,0.104],[1216,0.111],[1220,0.103],[1224,0.11],
[1228,0.112],[1232,0.117],[1236,0.113],[1240,0.114],[1244,0.115],[1248,0.112],[1252,0.118],[1256,0.114],[1260,0.112],[1264,0.117],[1268,0.114],[1272,0.111],[1276,0.115],[1280,0.112],[1284,0.11],[1288,0.113],[1292,0.109],[1296,0.112],[1300,0.106],[1304,0.11],[1308,0.104],[1312,0.108],[1316,0.102],[1320,0.107],[1324,0.1],[1328,0.106],[1332,0.112],[1336,0.1],[1340,0.108],[1344,0.113],[1348,0.104],[1352,0.111],[1356,0.106],[1360,0.114],[1364,0.103],[1368,0.11],[1372,0.105],[1376,0.113],[1380,0.1],[1384,0.108],[1388,0.103],[1392,0.11],[1396,0.097],[1400,0.105],[1404,0.1],[1408,0.107],[1412,0.094],[1416,0.102],[1420,0.098],[1424,0.105],[1428,0.092],[1432,0.1],[1436,0.096],[1440,0.103],[1444,0.09],[1448,0.098],[1452,0.094],[1456,0.1],[1460,0.088],[1464,0.096],[1468,0.09]
];
const dispEdge = [
[1474,0.088],[1478,0.095],[1482,0.081],[1486,0.09],[1490,0.076],[1494,0.085],[1498,0.093],[1502,0.079],[1506,0.087],[1510,0.072],[1514,0.082],[1518,0.09],[1522,0.075],[1526,0.084],[1530,0.068],[1534,0.078],[1538,0.086],[1542,0.071],[1546,0.08],[1550,0.064],[1554,0.074],[1558,0.083],[1562,0.067],[1566,0.076],[1570,0.06],[1574,0.07],[1578,0.079],[1582,0.063],[1586,0.072],[1590,0.056],[1594,0.066],[1598,0.075],
[1602,0.06],[1606,0.069],[1610,0.053],[1614,0.064],[1618,0.072],[1622,0.057],[1626,0.066],[1630,0.05],[1634,0.061],[1638,0.07],[1642,0.054],[1646,0.063],[1650,0.047],[1654,0.058],[1658,0.067],[1662,0.051],[1666,0.06],[1670,0.044],[1674,0.055],[1678,0.064],[1682,0.048],[1686,0.057],[1690,0.041],[1694,0.052],[1698,0.061],[1702,0.046],[1706,0.054],[1710,0.038],[1714,0.049],[1718,0.057],[1722,0.043],[1726,0.051],[1730,0.036],[1734,0.046],[1738,0.075],[1742,0.066],[1746,0.041],[1760,0.0453],[1788,0.0409],[1815,0.035],[1817,0.0323],[1816,0.03],[1818,0.031],
[1472,0.093],[1476,0.084],[1480,0.09],[1484,0.079],[1488,0.087],[1492,0.094],[1496,0.08],[1500,0.086],[1504,0.075],[1508,0.083],[1512,0.089],[1516,0.076],[1520,0.084],[1524,0.07],[1528,0.079],[1532,0.087],[1536,0.073],[1540,0.081],[1544,0.066],[1548,0.076],[1552,0.083],[1556,0.069],[1560,0.078],[1564,0.062],[1568,0.072],[1572,0.08],[1576,0.065],[1580,0.074],[1584,0.058],[1588,0.068],[1592,0.077],[1596,0.061],[1600,0.07],[1604,0.055],[1608,0.065],[1612,0.073],[1616,0.058],[1620,0.067],[1624,0.052],[1628,0.062],[1632,0.071],[1636,0.055],[1640,0.064],[1644,0.049],[1648,0.059],[1652,0.068],[1656,0.052],[1660,0.061],[1664,0.046],[1668,0.056],[1672,0.065],[1676,0.049],[1680,0.058],[1684,0.043],[1688,0.053],[1692,0.062],[1696,0.045],[1700,0.055],[1704,0.04],[1708,0.05],[1712,0.059],[1716,0.042],[1720,0.052],[1724,0.038],[1728,0.047],[1732,0.055],[1736,0.04],[1740,0.07],[1744,0.062],[1748,0.05],[1752,0.072]
];
const dispTail = [
[2330,0.0815],[2335,0.0818],[2340,0.082],[2345,0.0817],[2350,0.0815],[2355,0.0818],[2360,0.082],[2365,0.0816],[2370,0.0815],[2375,0.0813],[2380,0.081],[2385,0.0811],[2390,0.0812],[2395,0.081],[2400,0.081],[2405,0.0809],[2410,0.0808],[2600,0.0793],
[2865,0.0778],[2872,0.0777],[2880,0.0776],[2887,0.0774],[2895,0.0772],[2902,0.0771],[2910,0.077],[2917,0.0768],[2925,0.0766],[2932,0.0764],[2940,0.0762],[2947,0.0761],[2955,0.076],[2962,0.0759],[2970,0.0758],[2977,0.0757],[2985,0.0756],[2992,0.0756],[3000,0.0755],[3007,0.0754],[3015,0.0753],
[3050,0.0752],[3057,0.0752],[3065,0.0752],[3072,0.0751],[3080,0.0751],[3087,0.075],[3095,0.075],[3102,0.0749],[3110,0.0749],
[3228,0.0756],[3234,0.0755],[3240,0.0754],[3247,0.0753],[3255,0.0752],[3262,0.0751],[3270,0.0751],[3295,0.0743],[3302,0.0742],[3310,0.0741],[3317,0.074],[3325,0.0739],[3332,0.0738],[3340,0.0737],[3347,0.0736],[3355,0.0735],[3362,0.0734],[3370,0.0733],[3377,0.0732],[3385,0.0732],[3392,0.0731],[3398,0.0731],[3618,0.0722]
];

const FONT = "'Liberation Sans', Arial, Helvetica, sans-serif";
const NAVY = '#1c1c6c';
const CIRCLE = 'rgba(55,55,150,0.75)';

const toXY = arr => arr.map(p => ({x: p[0], y: p[1]}));
const massData = toXY([].concat(massLow, massLow2, massLow3, massMid, massMid2, massMid3, massHigh, massHigh2, massHigh3, massEdge, massEdge2, massTail));
const dispData = toXY([].concat(dispLow, dispMid, dispMid2, dispHigh, dispHigh2, dispEdge, dispTail));

const framePlugin = {
  id: 'frame',
  afterDatasetsDraw(chart) {
    const {ctx, chartArea: a, scales} = chart;
    const x = scales.x, y = scales.y, y2 = scales.y2;
    ctx.save();
    ctx.lineCap = 'butt';
    ctx.lineWidth = 2;
    ctx.strokeStyle = '#000';
    ctx.beginPath();
    ctx.moveTo(a.left, a.top); ctx.lineTo(a.right, a.top);
    ctx.moveTo(a.left, a.top - 1); ctx.lineTo(a.left, a.bottom + 1);
    ctx.moveTo(a.left, a.bottom); ctx.lineTo(a.right, a.bottom);
    xTicks.forEach(v => { const p = x.getPixelForValue(v);
      ctx.moveTo(p, a.bottom); ctx.lineTo(p, a.bottom + 12);
      ctx.moveTo(p, a.top); ctx.lineTo(p, a.top + 10); });
    xMinor.forEach(v => { const p = x.getPixelForValue(v);
      ctx.moveTo(p, a.bottom); ctx.lineTo(p, a.bottom + 7);
      ctx.moveTo(p, a.top); ctx.lineTo(p, a.top + 6); });
    yTicks.forEach(v => { const p = y.getPixelForValue(v);
      ctx.moveTo(a.left, p); ctx.lineTo(a.left - 12, p); });
    yMinor.forEach(v => { const p = y.getPixelForValue(v);
      ctx.moveTo(a.left, p); ctx.lineTo(a.left - 7, p); });
    ctx.stroke();
    ctx.strokeStyle = NAVY;
    ctx.beginPath();
    ctx.moveTo(a.right, a.top - 1); ctx.lineTo(a.right, a.bottom + 1);
    logTicks.forEach(v => { const p = y2.getPixelForValue(v);
      ctx.moveTo(a.right, p); ctx.lineTo(a.right + 12, p); });
    logMinor.forEach(v => { const p = y2.getPixelForValue(v);
      if (p >= a.top - 0.5) { ctx.moveTo(a.right, p); ctx.lineTo(a.right + 7, p); } });
    ctx.stroke();
    ctx.restore();
  },
  afterDraw(chart) {
    const {ctx} = chart;
    ctx.save();
    ctx.fillStyle = '#000';
    ctx.font = '28px ' + FONT;
    ctx.textAlign = 'left';
    ctx.textBaseline = 'alphabetic';
    ctx.fillText('Frequency / cm', 430, 745);
    ctx.font = '16px ' + FONT;
    ctx.fillText('-1', 643, 724);
    ctx.font = '28px ' + FONT;
    ctx.textAlign = 'center';
    ctx.textBaseline = 'middle';
    ctx.save();
    ctx.translate(32, 332);
    ctx.rotate(-Math.PI / 2);
    ctx.fillText('Reduced mass / a.m.u.', 0, 0);
    ctx.restore();
    ctx.save();
    ctx.fillStyle = NAVY;
    ctx.translate(1068, 344);
    ctx.rotate(Math.PI / 2);
    ctx.fillText('Displacement / Angstrom', 0, 0);
    ctx.restore();
    // legend box
    ctx.lineWidth = 2;
    ctx.strokeStyle = '#000';
    ctx.strokeRect(630, 56, 314, 71);
    ctx.fillStyle = '#000';
    ctx.fillRect(686, 76, 4, 4);
    ctx.strokeStyle = CIRCLE;
    ctx.lineWidth = 0.8;
    ctx.beginPath(); ctx.arc(689, 103, 2.2, 0, Math.PI * 2); ctx.stroke();
    ctx.fillStyle = '#000';
    ctx.font = '20px ' + FONT;
    ctx.textAlign = 'left';
    ctx.textBaseline = 'middle';
    ctx.fillText('Reduced mass', 724, 78);
    ctx.fillText('RMS displacement', 724, 104);
    ctx.restore();
  }
};

const noPad = s => { s.paddingTop = 0; s.paddingBottom = 0; };

new Chart(document.getElementById('c'), {
  type: 'scatter',
  data: {
    datasets: [
      { label: 'Reduced mass', data: massData, yAxisID: 'y', pointStyle: 'rect',
        pointRadius: 2.5, borderWidth: 0, backgroundColor: '#000', borderColor: '#000', clip: false },
      { label: 'RMS displacement', data: dispData, yAxisID: 'y2', pointStyle: 'circle',
        pointRadius: 2.2, borderWidth: 0.8, backgroundColor: 'rgba(0,0,0,0)', borderColor: CIRCLE, clip: false }
    ]
  },
  options: {
    responsive: true,
    maintainAspectRatio: false,
    animation: false,
    events: [],
    layout: { padding: { top: 28, left: 0, right: 0, bottom: 0 }, autoPadding: false },
    plugins: { legend: { display: false }, tooltip: { enabled: false }, title: { display: false } },
    scales: {
      x: { type: 'linear', position: 'bottom', min: 0, max: 3500,
        afterBuildTicks: s => { s.ticks = xTicks.map(v => ({value: v})); },
        ticks: { font: { size: 26, family: FONT }, color: '#000', padding: 17, maxRotation: 0, autoSkip: false,
          callback: v => String(v) },
        grid: { display: false, drawTicks: false }, border: { display: false },
        afterFit: s => { s.height = 115; s.paddingLeft = 0; s.paddingRight = 0; } },
      y: { type: 'linear', position: 'left', min: 0, max: 12,
        afterBuildTicks: s => { s.ticks = yTicks.map(v => ({value: v})); },
        ticks: { font: { size: 26, family: FONT }, color: '#000', padding: 20, autoSkip: false,
          callback: v => String(v) },
        grid: { display: false, drawTicks: false }, border: { display: false },
        afterFit: s => { s.width = 126; noPad(s); } },
      y2: { type: 'logarithmic', position: 'right', min: 0.01, max: 5.2,
        afterBuildTicks: s => { s.ticks = logTicks.map(v => ({value: v})); },
        ticks: { font: { size: 26, family: FONT }, color: NAVY, padding: 20, autoSkip: false,
          callback: v => String(v) },
        grid: { display: false, drawTicks: false }, border: { display: false },
        afterFit: s => { s.width = 133; noPad(s); } }
    }
  },
  plugins: [framePlugin]
});
</script>
</body>
</html>
